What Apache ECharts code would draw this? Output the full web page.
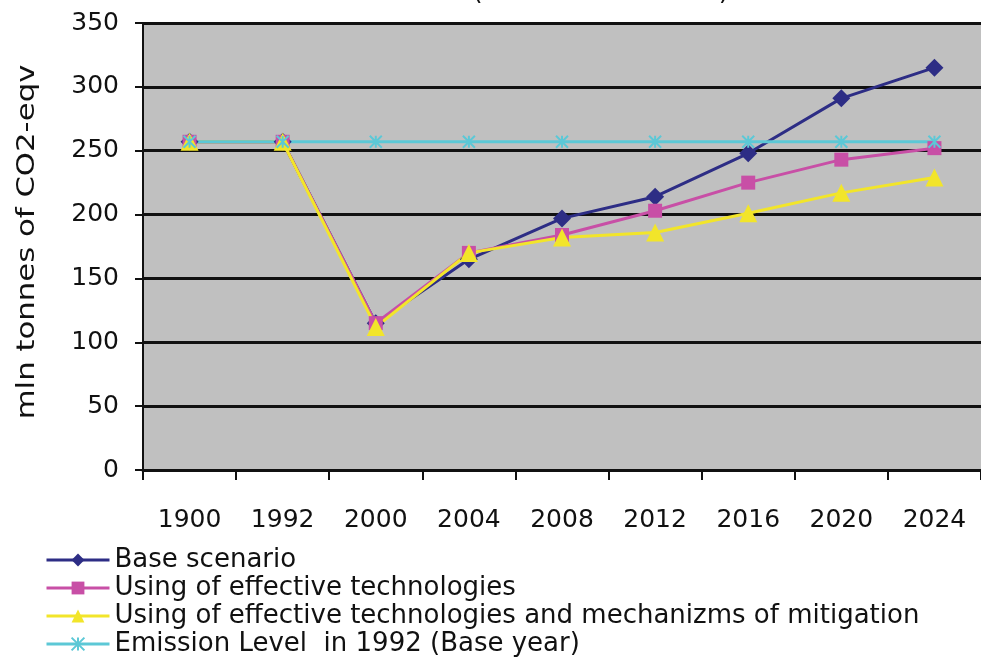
<!DOCTYPE html>
<html lang="en">
<head>
    <meta charset="UTF-8">
    <title>CO2 emissions scenarios</title>
    <script src="https://cdn.jsdelivr.net/npm/echarts@6/dist/echarts.min.js"></script>
    <style>
        html, body { margin: 0; padding: 0; background: #fff; }
        #main { width: 981px; height: 660px; }
    </style>
</head>
<body>
    <div id="main"></div>
    <script>
    // data
    var years = ['1900', '1992', '2000', '2004', '2008', '2012', '2016', '2020', '2024'];
    var baseScenario = [257, 257, 115, 165, 197, 214, 248, 291, 315];
    var effectiveTech = [257, 257, 115, 170, 184, 203, 225, 243, 252];
    var techMitigation = [257, 257, 112, 170, 182, 186, 201, 217, 229];
    var level1992 = [257, 257, 257, 257, 257, 257, 257, 257, 257];
    var seriesNames = [
        'Base scenario',
        'Using of effective technologies',
        'Using of effective technologies and mechanizms of mitigation',
        'Emission Level  in 1992 (Base year)'
    ];

    // wide sans, the source text is stretched sideways
    var font = '"DejaVu Sans", Verdana, sans-serif';
    var starPath = 'path://M0,0L10,10M10,0L0,10M5,0L5,10';

    var myChart = echarts.init(document.getElementById('main'));

    function line(name, data, color, symbol, size) {
        return {
            name: name,
            type: 'line',
            data: data,
            symbol: symbol,
            symbolSize: size,
            lineStyle: { color: color, width: 3 },
            itemStyle: { color: color },
            z: 3
        };
    }

    var cyan = line(seriesNames[3], level1992, '#5cc8d6', starPath, 12);
    cyan.itemStyle = { color: 'transparent', borderColor: '#5cc8d6', borderWidth: 2 };

    var option = {
        animation: false,
        textStyle: { fontFamily: font },
        graphic: [{
            // title is cut off at the top edge of the picture
            type: 'text',
            left: 410,
            top: -21,
            style: { text: 'UKR (MARKAL Model RE)', font: '26px ' + font, fill: '#111' }
        }, {
            // y axis title, stretched along its length like the source
            type: 'text',
            x: 27,
            y: 242,
            rotation: Math.PI / 2,
            scaleX: 1.23,
            style: {
                text: 'mln tonnes of CO2-eqv',
                font: '25px ' + font,
                fill: '#111',
                align: 'center',
                verticalAlign: 'middle'
            }
        }],
        legend: {
            orient: 'vertical',
            left: 45,
            top: 546,
            padding: 0,
            itemGap: 0,
            itemWidth: 63,
            itemHeight: 16,
            data: seriesNames,
            lineStyle: { width: 3 },
            textStyle: { fontSize: 26, lineHeight: 28, color: '#111', fontFamily: font }
        },
        grid: {
            left: 143,
            top: 23,
            width: 843,
            height: 447,
            show: true,
            backgroundColor: '#c0c0c0',
            borderWidth: 0
        },
        xAxis: {
            type: 'category',
            data: years,
            boundaryGap: true,
            axisLine: { lineStyle: { color: '#111', width: 3 } },
            axisTick: { show: true, length: 10, lineStyle: { color: '#111', width: 2 } },
            axisLabel: { fontSize: 25, color: '#111', margin: 38 },
            splitLine: { show: false }
        },
        yAxis: {
            type: 'value',
            min: 0,
            max: 350,
            interval: 50,
            axisLine: { show: true, lineStyle: { color: '#111', width: 2 } },
            axisTick: { show: true, length: 8, lineStyle: { color: '#111', width: 2 } },
            axisLabel: { fontSize: 25, color: '#111', margin: 24 },
            splitLine: { show: true, lineStyle: { color: '#111', width: 3 } }
        },
        series: [
            line(seriesNames[0], baseScenario, '#2d2d85', 'diamond', 18),
            line(seriesNames[1], effectiveTech, '#c84fa6', 'rect', 14),
            line(seriesNames[2], techMitigation, '#f2e52a', 'triangle', 18),
            cyan
        ]
    };

    myChart.setOption(option);
    </script>
</body>
</html>
